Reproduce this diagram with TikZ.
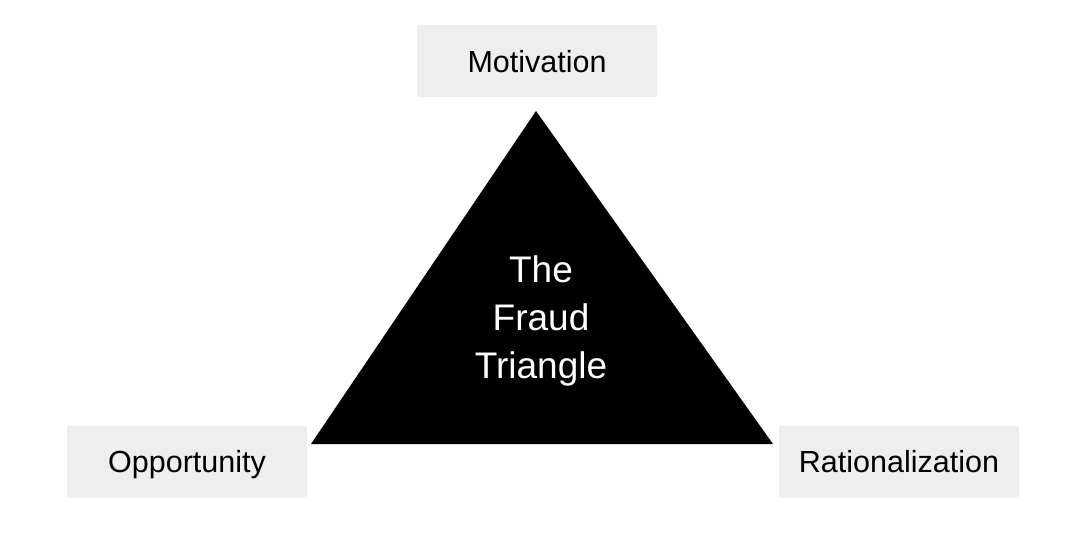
\documentclass[tikz,border=0pt]{standalone}
\usepackage{fontspec}
\setmainfont{Liberation Sans}
\definecolor{boxgray}{HTML}{EEEEEE}
\begin{document}
\begin{tikzpicture}[x=1pt,y=-1pt,
  labelbox/.style={fill=boxgray, rounded corners=1.5pt, minimum width=240pt, minimum height=72pt, inner sep=0pt, text height=22pt, text depth=0pt, font=\fontsize{30.5}{36}\selectfont},
  centertext/.style={text=white, align=center, font=\fontsize{37}{48}\selectfont}]
\useasboundingbox (0,0) rectangle (1084,546);
\node[labelbox] (mot) at (537,61) {Motivation};
\node[labelbox] (opp) at (187,461.5) {Opportunity};
\node[labelbox] (rat) at (899,461.5) {Rationalization};
\coordinate (apex) at (536,111);
\coordinate (bl) at (311,444);
\coordinate (br) at (773,444);
\fill[black] (apex) -- (bl) -- (br) -- cycle;
\node[centertext] (title) at (541,321) {The\\Fraud\\Triangle};
\end{tikzpicture}
\end{document}
